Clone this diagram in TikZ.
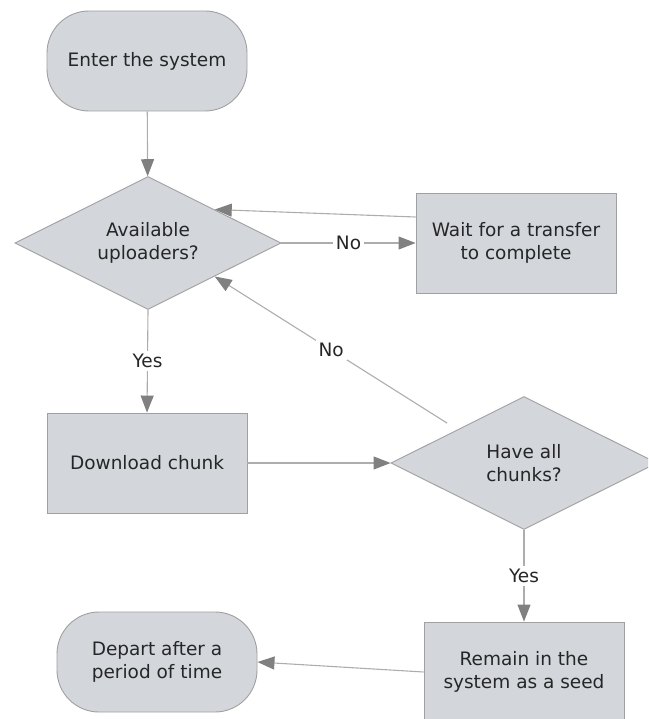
\documentclass[tikz,border=0pt]{standalone}
\usepackage{fontspec}
\setmainfont{DejaVu Sans}
\usetikzlibrary{arrows.meta,shapes.geometric}
\definecolor{shapefill}{HTML}{D3D7DC}
\definecolor{shapeedge}{HTML}{A0A0A0}
\definecolor{flowline}{HTML}{ADADAD}
\definecolor{flowtip}{HTML}{808080}
\definecolor{labeltext}{HTML}{262626}

\begin{document}
\begin{tikzpicture}[
  x=1pt,
  y=-1pt,
  font=\fontsize{18.5}{23}\selectfont,
  text=labeltext,
  base/.style={draw=shapeedge,fill=shapefill,line width=0.9pt,align=center,inner sep=0pt},
  terminal/.style={base,rectangle,rounded corners=42pt,minimum width=200pt,minimum height=100pt},
  process/.style={base,rectangle,minimum width=200pt,minimum height=100pt},
  decision/.style={base,diamond,aspect=2,minimum width=266pt,minimum height=133pt},
  flow/.style={draw=flowline,line width=1.1pt,-{Triangle[length=17pt,width=13pt,color=flowtip]}},
  answer/.style={fill=white,inner sep=3pt}
]
  % Page frame; the right diamond and the seed box run past it.
  \clip (0,0) rectangle (648,719);

  % Flow chart nodes, placed at the reference positions.
  \node[terminal] (enter) at (147,61) {Enter the system};
  \node[decision] (avail) at (148,243) {Available\\uploaders?};
  \node[process] (wait) at (516,243) {Wait for a transfer\\to complete};
  \node[process] (download) at (147,463) {Download chunk};
  \node[decision] (chunks) at (524,463) {Have all\\chunks?};
  \node[process] (remain) at (524,672) {Remain in the\\system as a seed};
  \node[terminal] (depart) at (157,662) {Depart after a\\period of time};

  % Connectors between the steps.
  \draw[flow] (enter) -- (avail);
  \draw[flow] (avail.east) -- node[answer] {No} (wait.west);
  \draw[flow] ([yshift=26pt]wait.west) -- (avail.north east);
  \draw[flow] (avail.south) -- node[answer] {Yes} (download.north);
  \draw[flow] (download.east) -- (chunks.west);
  \draw[flow,shorten <=12pt] (chunks.north west) -- node[answer,pos=0.52] {No} (avail.south east);
  \draw[flow] (chunks.south) -- node[answer] {Yes} (remain.north);
  \draw[flow] (remain.west) -- (depart.east);
\end{tikzpicture}
\end{document}
